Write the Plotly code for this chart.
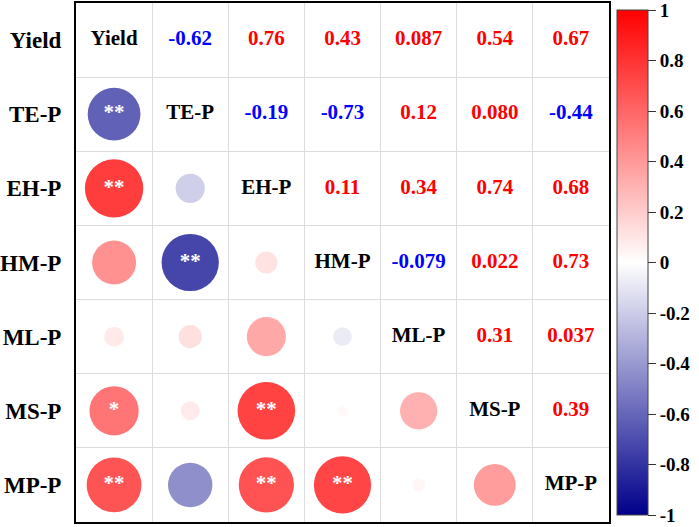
import plotly.graph_objects as go

variables = ["Yield", "TE-P", "EH-P", "HM-P", "ML-P", "MS-P", "MP-P"]

# Upper-triangle correlation values, row by row (row i, columns i+1..6)
corr_rows = [
    [-0.62, 0.76, 0.43, 0.087, 0.54, 0.67],
    [-0.19, -0.73, 0.12, 0.080, -0.44],
    [0.11, 0.34, 0.74, 0.68],
    [-0.079, 0.022, 0.73],
    [0.31, 0.037],
    [0.39],
]

# Significance marks for lower triangle, keyed (row_var, col_var)
signif = {
    ("TE-P", "Yield"): "**",
    ("EH-P", "Yield"): "**",
    ("MS-P", "Yield"): "*",
    ("MP-P", "Yield"): "**",
    ("HM-P", "TE-P"): "**",
    ("MS-P", "EH-P"): "**",
    ("MP-P", "EH-P"): "**",
    ("MP-P", "HM-P"): "**",
}

cbar_ticks = [1, 0.8, 0.6, 0.4, 0.2, 0, -0.2, -0.4, -0.6, -0.8, -1]
cbar_labels = ["1", "0.8", "0.6", "0.4", "0.2", "0", "-0.2", "-0.4", "-0.6", "-0.8", "-1"]

n = len(variables)
M = [[1.0] * n for _ in range(n)]
for i, row in enumerate(corr_rows):
    for k, v in enumerate(row):
        j = i + 1 + k
        M[i][j] = v
        M[j][i] = v

FONT = "Liberation Serif"
colorscale = [[0, "#00008B"], [0.5, "#FFFFFF"], [1, "#FF0000"]]

# lower triangle circles
cx, cy, cv, cs = [], [], [], []
sx, sy, st = [], [], []
for i in range(n):
    for j in range(i):
        r = M[i][j]
        cx.append(j)
        cy.append(i)
        cv.append(r)
        cs.append(67 * abs(r) ** 0.5)
        mark = signif.get((variables[i], variables[j]))
        if mark:
            sx.append(j)
            sy.append(i)
            st.append(mark)

# upper triangle numbers
ux, uy, ut, uc = [], [], [], []
for i in range(n):
    for j in range(i + 1, n):
        r = M[i][j]
        ux.append(j)
        uy.append(i)
        ut.append(f"{r:#.2g}")
        uc.append("#FF0000" if r > 0 else "#0000FF")

fig = go.Figure()

fig.add_trace(go.Scatter(
    x=cx, y=cy, mode="markers",
    marker=dict(
        size=cs, color=cv, colorscale=colorscale, cmin=-1, cmax=1,
        line=dict(width=0), opacity=1,
        showscale=True,
        colorbar=dict(
            x=1.015, xanchor="left", xref="paper", xpad=0, ypad=8,
            y=0.5, yanchor="middle", len=521, lenmode="pixels",
            thickness=31, outlinewidth=1, outlinecolor="#444",
            tickmode="array", tickvals=cbar_ticks, ticktext=cbar_labels,
            ticks="outside", ticklen=8, tickwidth=1, tickcolor="#333",
            ticklabeloverflow="allow",
            tickfont=dict(family=FONT, size=19, color="black", weight="bold"),
        ),
    ),
    hoverinfo="skip", showlegend=False,
))

fig.add_trace(go.Scatter(
    x=sx, y=sy, mode="text", text=st,
    textfont=dict(family=FONT, size=21, color="white", weight="bold"),
    textposition="middle center", hoverinfo="skip", showlegend=False,
))

fig.add_trace(go.Scatter(
    x=ux, y=uy, mode="text", text=ut,
    textfont=dict(family=FONT, size=21, color=uc, weight="bold"),
    textposition="middle center", hoverinfo="skip", showlegend=False,
))

fig.add_trace(go.Scatter(
    x=list(range(n)), y=list(range(n)), mode="text", text=variables,
    textfont=dict(family=FONT, size=21, color="black", weight="bold"),
    textposition="middle center", hoverinfo="skip", showlegend=False,
))

fig.update_xaxes(
    range=[-0.5, n - 0.5], showticklabels=False, ticks="",
    tickvals=list(range(n)), showgrid=False, zeroline=False,
    showline=True, mirror=True, linecolor="black", linewidth=2,
    minor=dict(tick0=0.5, dtick=1, showgrid=True, gridcolor="#DCDCDC", gridwidth=1, ticks=""),
)
fig.update_yaxes(
    range=[n - 0.5, -0.5], tickmode="array", tickvals=list(range(n)), ticktext=variables,
    tickfont=dict(family=FONT, size=23, color="black", weight="bold"),
    ticks="outside", ticklen=8, tickcolor="rgba(0,0,0,0)",
    showgrid=False, zeroline=False,
    showline=True, mirror=True, linecolor="black", linewidth=2,
    minor=dict(tick0=0.5, dtick=1, showgrid=True, gridcolor="#DCDCDC", gridwidth=1, ticks=""),
)

fig.update_layout(
    width=699, height=527,
    margin=dict(l=76, r=90, t=3, b=5, autoexpand=False),
    plot_bgcolor="white", paper_bgcolor="white",
)

fig.write_html(
    "out.html",
    config={"displayModeBar": False},
    post_script="document.body.style.margin='0';document.body.style.padding='0';",
)
